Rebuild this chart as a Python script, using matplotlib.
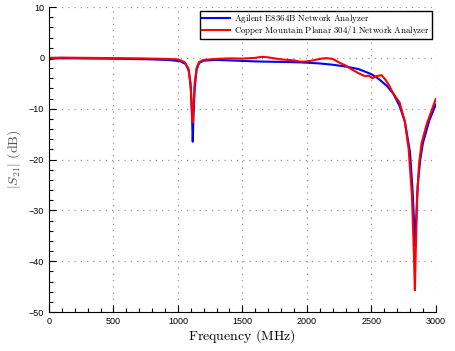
import matplotlib
matplotlib.use("Agg")
import matplotlib.pyplot as plt
from matplotlib.ticker import MultipleLocator
import numpy as np

# Agilent E8364B (blue)
freqAgilent = [0, 50, 200, 400, 600, 800, 950, 1020, 1060, 1085, 1100, 1110, 1115, 1120, 1130,
               1145, 1165, 1200, 1300, 1400, 1500, 1600, 1700, 1800, 1900, 2000, 2100, 2200,
               2300, 2400, 2500, 2560, 2620, 2670, 2720, 2760, 2800, 2820, 2835, 2840, 2848,
               2860, 2880, 2900, 2950, 3000]
s21Agilent = [-0.3, -0.1, -0.1, -0.15, -0.2, -0.3, -0.45, -0.7, -1.2, -2.5, -6, -12, -16.5, -12, -6,
              -2.3, -1.0, -0.55, -0.4, -0.5, -0.6, -0.7, -0.75, -0.8, -0.85, -0.95, -1.1, -1.35,
              -1.7, -2.2, -3.2, -4.2, -5.5, -7, -9.5, -12.5, -18.5, -26, -34, -37, -32,
              -25, -20, -16.8, -12.3, -9.2]

# Copper Mountain Planar 304/1 (red)
freqPlanar = [0, 100, 300, 500, 700, 900, 1000, 1050, 1080, 1098, 1108, 1113, 1120, 1130, 1145,
              1165, 1200, 1300, 1400, 1500, 1600, 1650, 1700, 1800, 1900, 1950, 2000, 2050,
              2100, 2150, 2200, 2250, 2300, 2350, 2400, 2450, 2480, 2510, 2540, 2580, 2610,
              2640, 2670, 2720, 2760, 2790, 2815, 2830, 2838, 2845, 2855, 2870, 2890, 2930,
              2970, 3000]
s21Planar = [0, 0.05, 0, -0.05, -0.1, -0.2, -0.3, -0.8, -2, -5, -10, -12.7, -10, -5, -2,
             -0.8, -0.4, -0.2, -0.1, -0.15, 0, 0.2, 0.1, -0.3, -0.5, -0.75, -0.7, -0.5,
             -0.2, -0.05, -0.2, -0.9, -1.5, -2.3, -3.0, -3.6, -3.5, -4.0, -3.6, -3.4, -4.3,
             -5.5, -7, -8.8, -12.5, -18, -27, -38, -45.7, -38, -28, -21, -16.8, -13,
             -10.2, -8.1]

plt.rcParams['mathtext.fontset'] = 'cm'
plt.rcParams['font.family'] = 'Liberation Sans'

fig = plt.figure( figsize = ( 4.55, 3.51 ), dpi = 100 )
ax = fig.add_axes( [ 0.1077, 0.111, 0.850, 0.869 ] )

ax.plot( freqAgilent, s21Agilent, color = '#0000ff', lw = 1.5,
         label = r'$\mathrm{Agilent\ E8364B\ Network\ Analyzer}$' )
ax.plot( freqPlanar, s21Planar, color = '#ff0000', lw = 1.5,
         label = r'$\mathrm{Copper\ Mountain\ Planar\ 304/1\ Network\ Analyzer}$' )

ax.set_xlim( 0, 3000 )
ax.set_ylim( -50, 10 )
ax.xaxis.set_major_locator( MultipleLocator( 500 ) )
ax.xaxis.set_minor_locator( MultipleLocator( 100 ) )
ax.yaxis.set_major_locator( MultipleLocator( 10 ) )
ax.yaxis.set_minor_locator( MultipleLocator( 2 ) )
ax.tick_params( which = 'both', direction = 'in', labelsize = 6.5, width = 0.8 )
ax.tick_params( which = 'major', length = 5 )
ax.tick_params( which = 'minor', length = 3 )
for side in [ 'top', 'right' ]:
    ax.spines[side].set_visible( False )
ax.grid( True, which = 'major', linestyle = ( 0, ( 1, 4 ) ), color = '#999999', linewidth = 0.9 )

ax.set_xlabel( r'$\mathrm{Frequency\ (MHz)}$', fontsize = 10, labelpad = 1 )
ax.set_ylabel( r'$|S_{21}|\ \mathrm{(dB)}$', fontsize = 10, color = '#555555', labelpad = 4 )

leg = ax.legend( loc = 'upper right', fontsize = 6.4, fancybox = False, framealpha = 1,
                 borderpad = 0.15, handlelength = 3.2, handletextpad = 0.5,
                 labelspacing = -0.1, borderaxespad = 0.45 )
leg.get_frame().set_edgecolor( 'black' )
leg.get_frame().set_linewidth( 1.0 )

fig.savefig( "out.png", dpi = 100 )
